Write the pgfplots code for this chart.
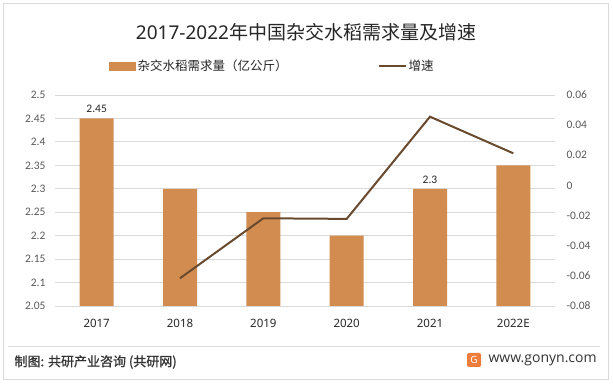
\documentclass[border=0pt]{standalone}
\usepackage{fontspec}
\setmainfont{Carlito}
\newfontfamily\cjk{Noto Sans CJK SC}
\newfontfamily\cjkm[FakeBold=1]{Noto Sans CJK SC}
\newfontfamily\nsans{Noto Sans}
\newfontfamily\osans{Open Sans}
\usepackage{pgfplots}
\pgfplotsset{compat=1.18}
\definecolor{barc}{HTML}{D38C50}
\definecolor{linec}{HTML}{694A2F}
\definecolor{gridc}{HTML}{D9D9D9}
\definecolor{tickc}{HTML}{595959}
\definecolor{txtc}{HTML}{262626}
\definecolor{footc}{HTML}{333333}
\definecolor{logoc}{HTML}{EE7D3B}
\begin{document}
\begin{tikzpicture}[x=1pt,y=1pt]
\fill[white] (0,0) rectangle (613,385);
\draw[gridc, line width=0.8pt] (3.5,6) rectangle (608.5,382);
\draw[gridc, line width=0.8pt] (8,39) -- (600,39);
\node[text=txtc] at (306,353) {\fontsize{19}{22}\selectfont\nsans 2017-2022\cjk 年中国杂交水稻需求量及增速};

\begin{axis}[
  at={(55pt,79pt)}, anchor=south west, scale only axis,
  width=500pt, height=211pt,
  xmin=-0.5, xmax=5.5, ymin=2.05, ymax=2.5,
  xtick={0,1,2,3,4,5},
  xticklabels={2017,2018,2019,2020,2021,2022E},
  ytick={2.05,2.1,2.15,2.2,2.25,2.3,2.35,2.4,2.45,2.5},
  scaled y ticks=false,
  ymajorgrids, grid style={gridc, line width=0.8pt},
  axis line style={draw=none}, major tick length=0pt,
  /pgf/number format/assume math mode=true,
  /pgf/number format/fixed, /pgf/number format/precision=2,
  xticklabel style={font=\nsans\fontsize{11.5}{13}\selectfont, text=txtc, yshift=-10pt},
  yticklabel style={font=\fontsize{11.5}{13}\selectfont, text=tickc, xshift=-6pt},
]
\addplot[ybar, bar width=34pt, bar shift=0pt, fill=barc, draw=none]
  coordinates {(0,2.45) (1,2.3) (2,2.25) (3,2.2) (4,2.3) (5,2.35)};
\addplot[ybar, bar width=34pt, bar shift=0pt, fill=none, draw=none,
  nodes near coords,
  nodes near coords style={font=\fontsize{11.5}{13}\selectfont, text=txtc, yshift=2pt,
    /pgf/number format/fixed, /pgf/number format/precision=2}]
  coordinates {(0,2.45) (4,2.3)};
\end{axis}

\begin{axis}[
  at={(55pt,79pt)}, anchor=south west, scale only axis,
  width=500pt, height=211pt,
  xmin=-0.5, xmax=5.5, ymin=-0.08, ymax=0.06,
  axis x line=none, axis y line*=right,
  axis line style={draw=none}, major tick length=0pt,
  ytick={-0.08,-0.06,-0.04,-0.02,0,0.02,0.04,0.06},
  scaled y ticks=false,
  /pgf/number format/assume math mode=true,
  /pgf/number format/fixed, /pgf/number format/precision=2,
  yticklabel style={font=\fontsize{11.5}{13}\selectfont, text=tickc, anchor=west, xshift=8pt},
  legend style={at={(0.108,1.137)}, anchor=west, draw=none, fill=none,
    legend columns=2, inner xsep=0pt,
    font=\cjk\fontsize{12.5}{14}\selectfont, text=txtc,
    /tikz/every even column/.append style={column sep=88pt}},
  legend cell align=left,
]
\addlegendimage{legend image code/.code={\fill[barc] (0pt,-3.8pt) rectangle (26pt,3.8pt);}}
\addlegendentry{杂交水稻需求量（亿公斤）}
\addplot[linec, line width=2pt, mark=none,
  legend image code/.code={\draw[linec, line width=2pt] (0pt,0pt) -- (27pt,0pt);}]
  coordinates {(1,-0.0616) (2,-0.0218) (3,-0.0222) (4,0.0456) (5,0.0213)};
\addlegendentry{增速}
\end{axis}

\node[anchor=west, text=footc] at (11,23) {\cjkm\fontsize{13}{15}\selectfont 制图: 共研产业咨询 (共研网)};
\fill[logoc, rounded corners=1.5pt] (467,18) rectangle (481,32);
\node[text=white, inner sep=0pt] at (474,25) {\nsans\bfseries\fontsize{10}{10}\selectfont G};
\node[anchor=west, text=footc] at (485,25) {\osans\fontsize{14}{16}\selectfont www.gonyn.com};
\end{tikzpicture}
\end{document}
